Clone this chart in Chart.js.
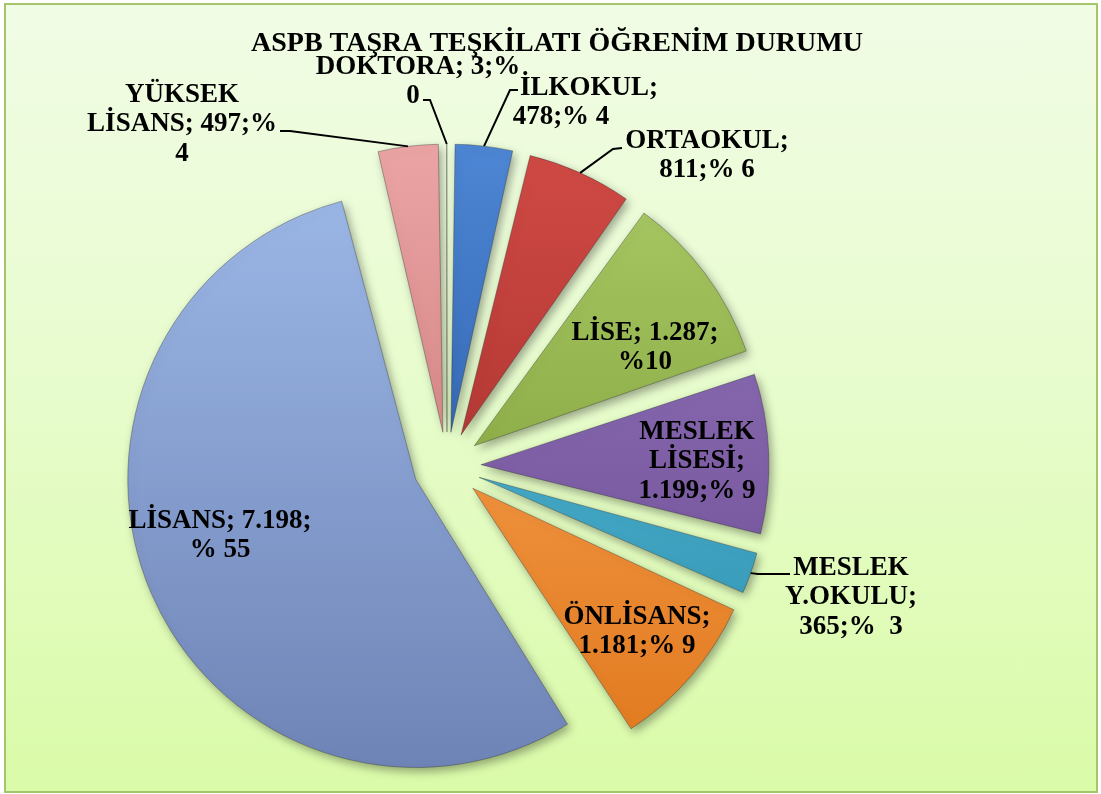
<!DOCTYPE html>
<html><head><meta charset="utf-8">
<script src="https://cdn.jsdelivr.net/npm/chart.js@4.4.0/dist/chart.umd.min.js"></script>
<style>
html,body{margin:0;padding:0;background:#fff;}
#wrap{position:relative;width:1101px;height:794px;overflow:hidden;background:#fff;}
#frame{position:absolute;left:4px;top:3px;width:1090px;height:786px;border:2px solid #a6c46c;
 background:linear-gradient(to bottom,#f1fce5 0%,#e8fccf 45%,#dafba8 100%);}
canvas{position:absolute;left:0;top:0;}
</style></head><body>
<div id="wrap"><div id="frame"></div><canvas id="c" width="1101" height="794"></canvas></div>
<script>
const titleText = 'ASPB TAŞRA TEŞKİLATI ÖĞRENİM DURUMU';
const categories = ['İLKOKUL','ORTAOKUL','LİSE','MESLEK LİSESİ','MESLEK Y.OKULU','ÖNLİSANS','LİSANS','YÜKSEK LİSANS','DOKTORA'];
const counts = [478, 811, 1287, 1199, 365, 1181, 7198, 497, 3];
const labelLines = [
  ['İLKOKUL;','478;% 4'],
  ['ORTAOKUL;','811;% 6'],
  ['LİSE; 1.287;','%10'],
  ['MESLEK','LİSESİ;','1.199;% 9'],
  ['MESLEK','Y.OKULU;','365;%  3'],
  ['ÖNLİSANS;','1.181;% 9'],
  ['LİSANS; 7.198;','% 55'],
  ['YÜKSEK','LİSANS; 497;%','4'],
  ['DOKTORA; 3;%','0']
];
const colorTop    = ['#4d86d4','#d04a45','#a9ca66','#9274bb','#5cc3e0','#fba75a','#9bb7e6','#eba4a4','#b8d07a'];
const colorBottom = ['#21509a','#9a2824','#76942e','#6b4b92','#2b8dab','#e0781c','#6f84b6','#c46e6e','#8fae4e'];

// text layout: first-line centre, per-line x shifts, and leader knees
const labelX = [575, 707, 645, 697, 851, 637, 220, 182, 418];
const labelY = [ 88, 141, 333, 432, 568, 617, 521,  95,  67];
const lineDx = {0:[14,-14], 8:[0,-5]};
const leaders = {0:[510,90,518,90], 1:[613,149,622,148], 4:[758,574,790,574], 7:[290,131,280,131], 8:[430,100,423,100]};

const R = 288, EXPLODE = 34, LH = 29.5;
const FONT = 'bold 27px "Liberation Serif", "Times New Roman", serif';

function grad(c){
  const ch = c.chart, ca = ch.chartArea, i = c.dataIndex;
  if (!ca) return colorTop[i];
  const cy = (ca.top + ca.bottom)/2;
  const g = ch.ctx.createLinearGradient(0, cy - R, 0, cy + R);
  g.addColorStop(0, colorTop[i]); g.addColorStop(1, colorBottom[i]);
  return g;
}

const pieFx = {
  id:'pieFx',
  beforeDatasetsDraw(chart){
    const meta = chart.getDatasetMeta(0);
    meta.data.forEach(a=>{
      const circ = a.endAngle - a.startAngle;
      const fix = 1 - Math.sin(Math.min(Math.PI, circ));
      a.outerRadius = R - EXPLODE*fix;
    });
    const ctx = chart.ctx;
    ctx.save();
    ctx.shadowColor = 'rgba(0,0,0,0.35)';
    ctx.shadowBlur = 10; ctx.shadowOffsetX = 3; ctx.shadowOffsetY = 4;
  },
  afterDatasetsDraw(chart){ chart.ctx.restore(); },
  afterDraw(chart){
    const ctx = chart.ctx;
    const meta = chart.getDatasetMeta(0);
    ctx.save();
    ctx.fillStyle = '#000';
    ctx.textAlign = 'center'; ctx.textBaseline = 'middle';
    ctx.font = 'bold 28px "Liberation Serif", "Times New Roman", serif';
    ctx.fillText(titleText, 557, 44);
    ctx.strokeStyle = '#000'; ctx.lineWidth = 2;
    Object.keys(leaders).forEach(k=>{
      const a = meta.data[k];
      const mid = (a.startAngle + a.endAngle)/2;
      const rx = a.x + (EXPLODE + R)*Math.cos(mid), ry = a.y + (EXPLODE + R)*Math.sin(mid);
      const L = leaders[k];
      ctx.beginPath(); ctx.moveTo(rx, ry); ctx.lineTo(L[0], L[1]); ctx.lineTo(L[2], L[3]); ctx.stroke();
    });
    ctx.font = FONT;
    labelLines.forEach((lines,i)=>{
      lines.forEach((t,j)=>{
        const dx = lineDx[i] ? lineDx[i][j] : 0;
        ctx.fillText(t, labelX[i] + dx, labelY[i] + j*LH);
      });
    });
    ctx.restore();
  }
};

new Chart(document.getElementById('c'), {
  type:'pie',
  data:{ labels: categories, datasets:[{
    data: counts,
    backgroundColor: grad,
    borderColor: 'rgba(40,40,40,0.35)',
    borderWidth: 1,
    offset: EXPLODE*4,
    radius: R
  }]},
  options:{
    responsive:false, animation:false,
    layout:{padding:{left:0,right:207,top:138,bottom:0}},
    plugins:{legend:{display:false}, tooltip:{enabled:false}, title:{display:false}}
  },
  plugins:[pieFx]
});
</script>
</body></html>
